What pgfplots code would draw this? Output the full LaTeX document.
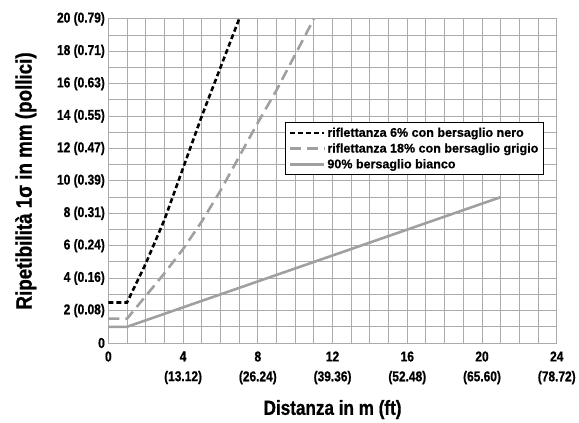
\documentclass[border=0pt]{standalone}
\usepackage{pgfplots}
\pgfplotsset{compat=1.18}
\usepackage{fontspec}
\setmainfont{Liberation Sans}[FakeStretch=0.84, BoldFeatures={FakeBold=0.8}]
\newfontfamily\legfont{Liberation Sans}[BoldFeatures={FakeBold=0.5}]
\definecolor{GridGray}{HTML}{ABABAB}
\definecolor{LineGray}{HTML}{A0A0A0}

\begin{document}
\begin{tikzpicture}
\begin{axis}[
  scale only axis,
  width=451pt, height=326pt,
  xmin=0, xmax=24, ymin=0, ymax=20,
  xtick={0,4,...,24},
  xticklabels={0, 4\\(13.12), 8\\(26.24), 12\\(39.36), 16\\(52.48), 20\\(65.60), 24\\(78.72)},
  ytick={0,2,...,20},
  yticklabels={0, 2 (0.08), 4 (0.16), 6 (0.24), 8 (0.31), 10 (0.39), 12 (0.47), 14 (0.55), 16 (0.63), 18 (0.71), 20 (0.79)},
  minor x tick num=3, minor y tick num=1,
  grid=both,
  grid style={GridGray, line width=1pt},
  minor grid style={GridGray, line width=1pt},
  axis line style={GridGray, line width=1pt},
  major tick length=0pt, minor tick length=0pt,
  x tick label style={font=\bfseries\fontsize{14.3}{20}\selectfont, align=center, anchor=north, yshift=-5pt},
  y tick label style={font=\bfseries\fontsize{14.3}{16}\selectfont},
  xlabel={Distanza in m (ft)},
  ylabel={Ripetibilità 1σ in mm (pollici)},
  xlabel style={font=\bfseries\fontsize{20.5}{22}\selectfont, yshift=-9pt},
  ylabel style={font=\bfseries\fontsize{22.5}{24}\selectfont, yshift=14pt},
  legend cell align=left,
  legend style={at={(0.395,0.681)}, anchor=north west, draw=black, line width=0.9pt,
    font=\legfont\bfseries\fontsize{12.6}{14}\selectfont, row sep=1.2pt, inner sep=3pt},
  legend image code/.code={\draw[#1] (0cm,0cm) -- (1.2cm,0cm);},
]
\addplot[black, line width=2.6pt, dash pattern=on 5pt off 3pt] coordinates {
  (0,2.5) (1,2.5) (2,4.9) (3,7.6) (4,10.8) (5,14) (6,17) (7,20)};
\addlegendentry{riflettanza 6\% con bersaglio nero}
\addplot[LineGray, line width=2.6pt, dash pattern=on 11pt off 6pt] coordinates {
  (0,1.5) (1,1.5) (2,2.9) (3,4.3) (4,5.8) (5,7.5) (6,9.4) (7,11.5) (8,13.6) (9,15.6) (10,17.8) (11,20)};
\addlegendentry{riflettanza 18\% con bersaglio grigio}
\addplot[LineGray, line width=2.6pt] coordinates {
  (0,1) (1,1) (21,9)};
\addlegendentry{90\% bersaglio bianco}
\end{axis}
% reserve the reference's margins round the axis
\path (current axis.south west) ++(-109pt,-77pt);
\path (current axis.north east) ++(19pt,19pt);
\end{tikzpicture}
\end{document}
